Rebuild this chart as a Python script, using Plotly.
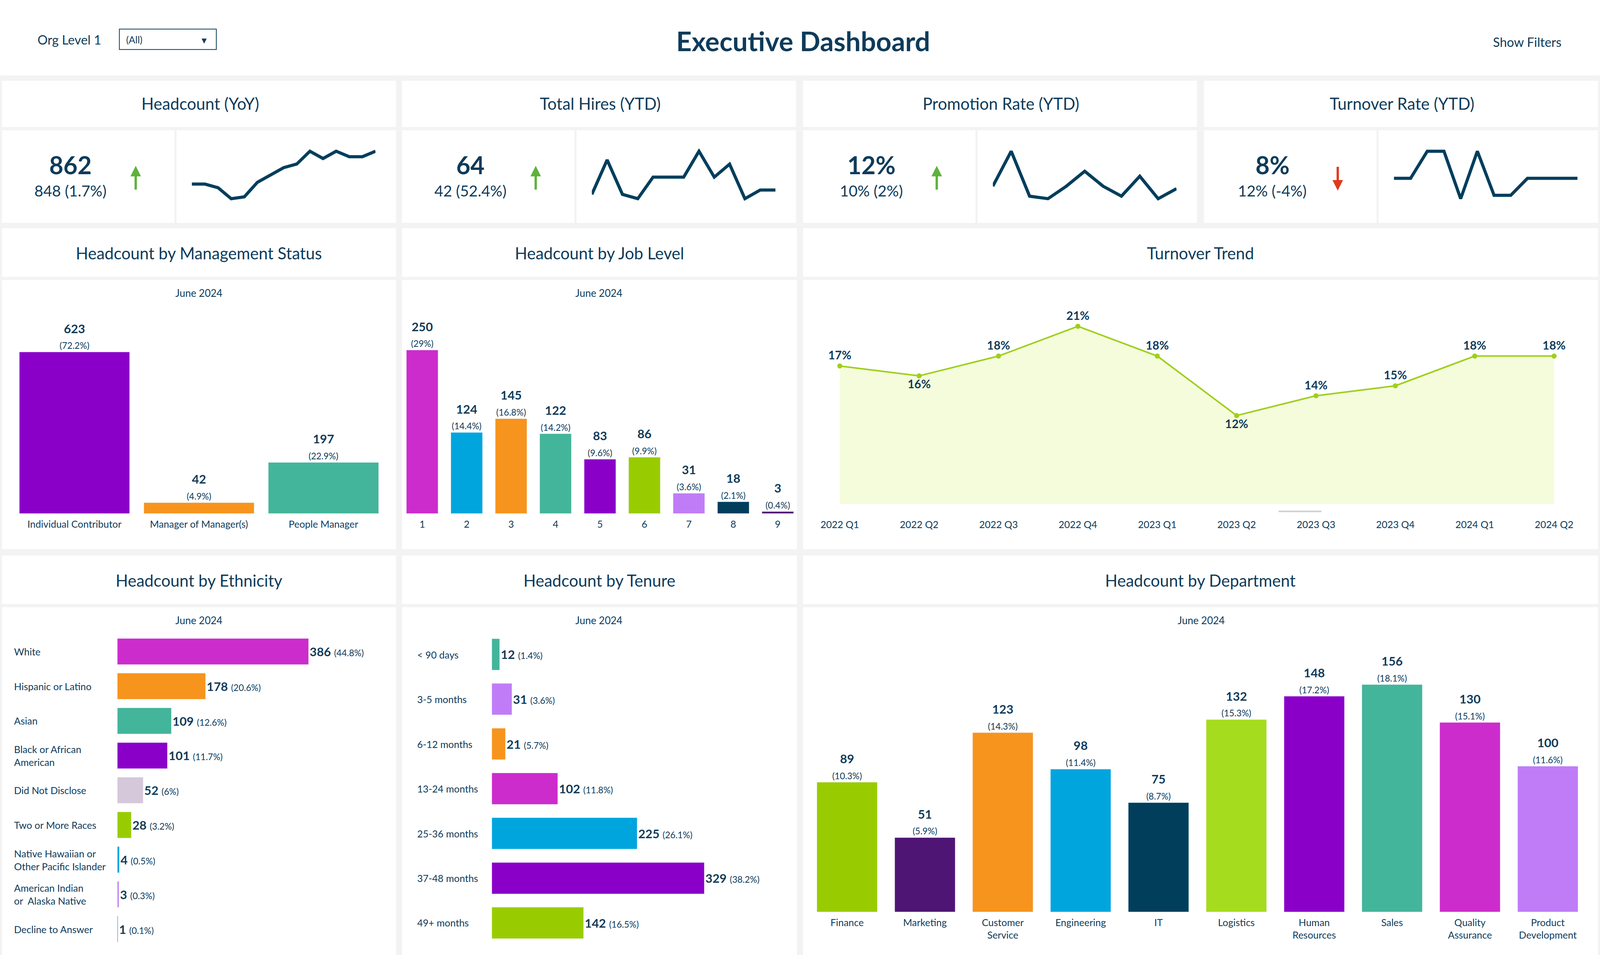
import plotly.graph_objects as go

DW, DH = 1568.0, 887.0
S = 4084 / DW
def px(x): return x / DW
def py(y): return 1 - y / DH
def fs(s): return s * S

NAVY = "#0e3b5a"
FONT = "Lato"
MAG, BLUE, ORA, TEAL, PUR, GRN, LPUR, DNAVY, DPUR, LIME, LILAC = (
    "#cc2ccc", "#00a5de", "#f7941d", "#43b59b", "#8a00c8", "#99cc00",
    "#c07cf7", "#003e5c", "#4e1575", "#a6dc1e", "#d4c8da")

# ---------- data ----------
kpi_titles = ["Headcount (YoY)", "Total Hires (YTD)", "Promotion Rate (YTD)", "Turnover Rate (YTD)"]
kpi_values = ["862", "64", "12%", "8%"]
kpi_prev = ["848 (1.7%)", "42 (52.4%)", "10% (2%)", "12% (-4%)"]
kpi_up = [True, True, True, False]
spark_headcount = [848, 848, 846, 840, 841, 849, 853, 857, 859, 866, 862, 866, 863, 863, 866]
spark_hires = [3, 11, 3, 2, 7, 7, 7, 13, 7, 10, 2, 4, 4]
spark_promo = [10, 17, 8, 7.5, 10, 13, 10, 8, 12, 7.5, 9.5]
spark_turn = [12, 12, 16, 16, 9, 16, 9.5, 9.5, 12, 12, 12, 12]

mgmt_cats = ["Individual Contributor", "Manager of Manager(s)", "People Manager"]
mgmt_vals = [623, 42, 197]
mgmt_pct = ["72.2", "4.9", "22.9"]

job_cats = ["1", "2", "3", "4", "5", "6", "7", "8", "9"]
job_vals = [250, 124, 145, 122, 83, 86, 31, 18, 3]
job_pct = ["29", "14.4", "16.8", "14.2", "9.6", "9.9", "3.6", "2.1", "0.4"]

turn_q = ["2022 Q1", "2022 Q2", "2022 Q3", "2022 Q4", "2023 Q1", "2023 Q2", "2023 Q3", "2023 Q4", "2024 Q1", "2024 Q2"]
turn_vals = [17, 16, 18, 21, 18, 12, 14, 15, 18, 18]

eth_cats = ["White", "Hispanic or Latino", "Asian", "Black or African<br>American", "Did Not Disclose",
            "Two or More Races", "Native Hawaiian or<br>Other Pacific Islander", "American Indian<br>or  Alaska Native",
            "Decline to Answer"]
eth_vals = [386, 178, 109, 101, 52, 28, 4, 3, 1]
eth_pct = ["44.8", "20.6", "12.6", "11.7", "6", "3.2", "0.5", "0.3", "0.1"]

ten_cats = ["< 90 days", "3-5 months", "6-12 months", "13-24 months", "25-36 months", "37-48 months", "49+ months"]
ten_vals = [12, 31, 21, 102, 225, 329, 142]
ten_pct = ["1.4", "3.6", "5.7", "11.8", "26.1", "38.2", "16.5"]

dept_cats = ["Finance", "Marketing", "Customer<br>Service", "Engineering", "IT", "Logistics",
             "Human<br>Resources", "Sales", "Quality<br>Assurance", "Product<br>Development"]
dept_vals = [89, 51, 123, 98, 75, 132, 148, 156, 130, 100]
dept_pct = ["10.3", "5.9", "14.3", "11.4", "8.7", "15.3", "17.2", "18.1", "15.1", "11.6"]

fig = go.Figure()
shapes, ann = [], []

def rect(x0, y0, x1, y1, color="white"):
    shapes.append(dict(type="rect", xref="paper", yref="paper", x0=px(x0), x1=px(x1),
                       y0=py(y1), y1=py(y0), fillcolor=color, line=dict(width=0), layer="below"))

def text(x, y, t, size, xanchor="center", bold=False, color=NAVY, yanchor="middle", align="center"):
    ann.append(dict(xref="paper", yref="paper", x=px(x), y=py(y), text=("<b>%s</b>" % t) if bold else t,
                    showarrow=False, xanchor=xanchor, yanchor=yanchor, align=align,
                    font=dict(family=FONT, size=fs(size), color=color)))

# header
rect(0, 0, 1568, 70)
text(36, 37, "Org Level 1", 12.5, xanchor="left")
shapes.append(dict(type="rect", xref="paper", yref="paper", x0=px(117), x1=px(212), y0=py(46), y1=py(27),
                   line=dict(color=NAVY, width=2), fillcolor="white"))
text(123, 37, "(All)", 9.5, xanchor="left")
text(200, 37, "▾", 10)
text(787, 38, "<b>Executive Dashboard</b>", 26.5)
text(1531, 39, "Show Filters", 12.5, xanchor="right")

kx = [2, 394, 787, 1180]
axn = [0]
layout_axes = {}
def add_axes(xd, yd, xkw, ykw):
    axn[0] += 1
    n = axn[0]
    sx = "" if n == 1 else str(n)
    base = dict(showgrid=False, zeroline=False, showline=False, fixedrange=True)
    xa = dict(base, domain=[px(xd[0]), px(xd[1])], anchor="y" + sx, **xkw)
    ya = dict(base, domain=[py(yd[1]), py(yd[0])], anchor="x" + sx, **ykw)
    layout_axes["xaxis" + sx] = xa
    layout_axes["yaxis" + sx] = ya
    return "x" + sx, "y" + sx

sparks = [spark_headcount, spark_hires, spark_promo, spark_turn]
for i, x0 in enumerate(kx):
    rect(x0, 75, x0 + 386, 118)
    rect(x0, 121, x0 + 169, 207)
    rect(x0 + 171, 121, x0 + 386, 207)
    text(x0 + 194, 96, kpi_titles[i], 16)
    text(x0 + 67, 153, kpi_values[i], 24, bold=True)
    text(x0 + 67, 177, kpi_prev[i], 15)
    ax_x = x0 + 131
    if kpi_up[i]:
        ann.append(dict(xref="paper", yref="paper", x=px(ax_x), y=py(154), ax=0, ay=fs(24), text="",
                        showarrow=True, arrowhead=2, arrowsize=0.9, arrowwidth=6, arrowcolor="#5db33c"))
    else:
        ann.append(dict(xref="paper", yref="paper", x=px(ax_x), y=py(177), ax=0, ay=-fs(24), text="",
                        showarrow=True, arrowhead=2, arrowsize=0.9, arrowwidth=6, arrowcolor="#e03a1e"))
    xr, yr = add_axes((x0 + 186, x0 + 366), (138, 187), dict(visible=False), dict(visible=False))
    fig.add_trace(go.Scatter(x=list(range(len(sparks[i]))), y=sparks[i], mode="lines",
                             line=dict(color=DNAVY, width=8), xaxis=xr, yaxis=yr, hoverinfo="skip"))

for x0, x1, t in [(2, 388, "Headcount by Management Status"), (394, 781, "Headcount by Job Level"),
                  (787, 1566, "Turnover Trend")]:
    rect(x0, 212, x1, 257)
    rect(x0, 260, x1, 510)
    text((x0 + x1) / 2, 235, t, 16)
for x0, x1, t in [(2, 388, "Headcount by Ethnicity"), (394, 781, "Headcount by Tenure"),
                  (787, 1566, "Headcount by Department")]:
    rect(x0, 516, x1, 561)
    rect(x0, 564, x1, 887)
    text((x0 + x1) / 2, 539, t, 16)
for xc in [195, 587]:
    text(xc, 272, "June 2024", 10)
for xc in [195, 587, 1177]:
    text(xc, 576, "June 2024", 10)

tickf = dict(family=FONT, size=fs(9.6), color=NAVY)
def vlabels(v, p):
    return ["<b>%d</b><br><span style='font-size:%dpx'>(%s%%)</span>" % (a, fs(9), b) for a, b in zip(v, p)]
def hlabels(v, p):
    return ["<b>%d</b> <span style='font-size:%dpx'>(%s%%)</span>" % (a, fs(9), b) for a, b in zip(v, p)]
valf = dict(family=FONT, size=fs(12), color=NAVY)

xr, yr = add_axes((12, 378), (285, 477), dict(tickfont=tickf, ticklabelstandoff=int(fs(4))),
                  dict(visible=False, range=[0, 797]))
fig.add_trace(go.Bar(x=mgmt_cats, y=mgmt_vals, marker_color=[PUR, ORA, TEAL], text=vlabels(mgmt_vals, mgmt_pct),
                     textposition="outside", textfont=valf, cliponaxis=False, xaxis=xr, yaxis=yr, width=0.885))

xr, yr = add_axes((392, 784), (285, 477), dict(tickfont=tickf, ticklabelstandoff=int(fs(4))),
                  dict(visible=False, range=[0, 316]))
fig.add_trace(go.Bar(x=job_cats, y=job_vals, marker_color=[MAG, BLUE, ORA, TEAL, PUR, GRN, LPUR, DNAVY, DPUR],
                     text=vlabels(job_vals, job_pct), textposition="outside", textfont=valf, cliponaxis=False,
                     xaxis=xr, yaxis=yr, width=0.71))

xr, yr = add_axes((788, 1558), (280, 468),
                  dict(tickfont=tickf, range=[-0.45, 9.45], ticklabelstandoff=int(fs(14))),
                  dict(visible=False, range=[3.1, 23.5]))
pos = ["top center" if i not in (1, 5) else "bottom center" for i in range(len(turn_vals))]
fig.add_trace(go.Scatter(x=turn_q, y=turn_vals, mode="lines+markers+text", fill="tozeroy",
                         fillcolor="#f5fcdc", line=dict(color="#9fcf1c", width=4),
                         marker=dict(size=fs(5), color="#9fcf1c"),
                         text=["<b>%d%%</b>" % v for v in turn_vals], textposition=pos,
                         textfont=dict(family=FONT, size=fs(11.5), color=NAVY), cliponaxis=False,
                         xaxis=xr, yaxis=yr))
shapes.append(dict(type="line", xref="paper", yref="paper", x0=px(1253), x1=px(1295), y0=py(475), y1=py(475),
                   line=dict(color="#d0d0d0", width=4)))

xr, yr = add_axes((115, 380), (589, 879), dict(visible=False, range=[0, 546]),
                  dict(visible=False, autorange="reversed"))
fig.add_trace(go.Bar(y=eth_cats, x=eth_vals, orientation="h",
                     marker_color=[MAG, ORA, TEAL, PUR, LILAC, GRN, BLUE, LPUR, DNAVY],
                     text=hlabels(eth_vals, eth_pct), textposition="outside", textfont=valf, cliponaxis=False,
                     xaxis=xr, yaxis=yr, width=0.75))
for i, c in enumerate(eth_cats):
    text(13, 605 + i * 32.25, c, 9.6, xanchor="left", align="left")

xr, yr = add_axes((482, 780), (587, 878), dict(visible=False, range=[0, 471]),
                  dict(visible=False, autorange="reversed"))
fig.add_trace(go.Bar(y=ten_cats, x=ten_vals, orientation="h",
                     marker_color=[TEAL, LPUR, ORA, MAG, BLUE, PUR, GRN],
                     text=hlabels(ten_vals, ten_pct), textposition="outside", textfont=valf, cliponaxis=False,
                     xaxis=xr, yaxis=yr, width=0.7))
for i, c in enumerate(ten_cats):
    text(408, 608 + i * 41.5, c, 9.6, xanchor="left", align="left")

xr, yr = add_axes((792, 1555), (600, 847), dict(tickfont=tickf, ticklabelstandoff=int(fs(4))),
                  dict(visible=False, range=[0, 182.5]))
fig.add_trace(go.Bar(x=dept_cats, y=dept_vals,
                     marker_color=[GRN, DPUR, ORA, BLUE, DNAVY, LIME, PUR, TEAL, MAG, LPUR],
                     text=vlabels(dept_vals, dept_pct), textposition="outside", textfont=valf, cliponaxis=False,
                     xaxis=xr, yaxis=yr, width=0.775))

fig.update_traces(selector=dict(type="bar"), hoverinfo="skip")
fig.update_layout(autosize=True, margin=dict(l=0, r=0, t=0, b=0), paper_bgcolor="#f3f3f3",
                  plot_bgcolor="rgba(0,0,0,0)", showlegend=False, shapes=shapes, annotations=ann,
                  font=dict(family=FONT, color=NAVY), **layout_axes)
fig.write_html("out.html", config={"displayModeBar": False, "responsive": True},
               default_width="100vw", default_height="100vh")
with open("out.html", "r", encoding="utf-8") as f:
    html = f.read()
html = html.replace("<body>", "<body style='margin:0;overflow:hidden'>", 1)
with open("out.html", "w", encoding="utf-8") as f:
    f.write(html)
